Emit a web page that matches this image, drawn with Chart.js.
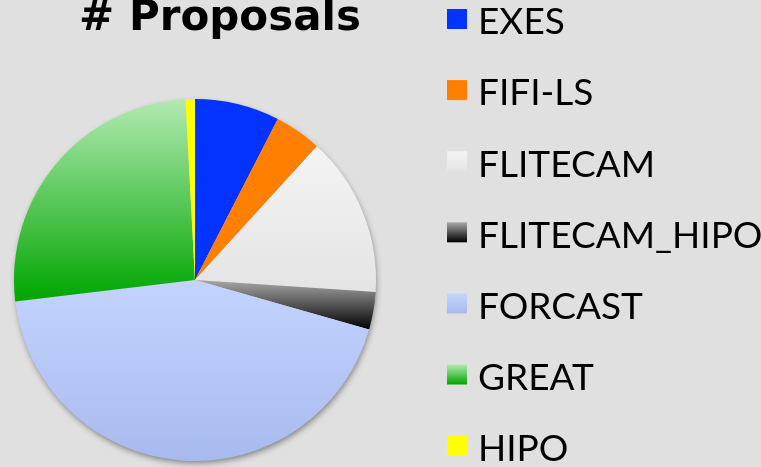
<!DOCTYPE html>
<html><head><meta charset="utf-8">
<script src="https://cdn.jsdelivr.net/npm/chart.js@4/dist/chart.umd.min.js"></script>
<style>html,body{margin:0;padding:0;background:#e0e0e0;overflow:hidden}canvas{display:block}</style>
</head><body>
<canvas id="c" width="761" height="467"></canvas>
<script>
const categories = ['EXES', 'FIFI-LS', 'FLITECAM', 'FLITECAM_HIPO', 'FORCAST', 'GREAT', 'HIPO'];
const proposals = [9, 5, 17, 4, 52, 31, 1];
const chartTitle = '# Proposals';
const topColors = ['#0433ff', '#ff8000', '#f4f4f4', '#a8a8a8', '#c4d4ff', '#b2eab2', '#ffff00'];
const bottomColors = ['#0433ff', '#ff8000', '#e4e4e4', '#000000', '#a8b9ee', '#00a600', '#ffff00'];

function arcBBox(el) {
  const { x, y, startAngle, endAngle, outerRadius: r } = el.getProps(['x', 'y', 'startAngle', 'endAngle', 'outerRadius'], true);
  let ys = [y, y + r * Math.sin(startAngle), y + r * Math.sin(endAngle)];
  const TAU = Math.PI * 2;
  const inRange = (a) => {
    let s = startAngle, e = endAngle;
    let k = Math.ceil((s - a) / TAU);
    return a + k * TAU <= e;
  };
  if (inRange(-Math.PI / 2)) ys.push(y - r);
  if (inRange(Math.PI / 2)) ys.push(y + r);
  return { top: Math.min(...ys), bottom: Math.max(...ys) };
}

const gradientPlugin = {
  id: 'gradients',
  beforeDatasetsDraw(chart) {
    const ctx = chart.ctx;
    const meta = chart.getDatasetMeta(0);
    const a0 = meta.data[0];
    ctx.save();
    ctx.shadowColor = 'rgba(0,0,0,0.45)';
    ctx.shadowBlur = 6;
    ctx.shadowOffsetX = 1;
    ctx.shadowOffsetY = 3;
    ctx.fillStyle = '#d0d0d0';
    ctx.beginPath();
    ctx.arc(a0.x, a0.y, a0.outerRadius - 1, 0, Math.PI * 2);
    ctx.fill();
    ctx.restore();
    meta.data.forEach((el, i) => {
      const b = arcBBox(el);
      const g = ctx.createLinearGradient(0, b.top, 0, b.bottom);
      g.addColorStop(0, topColors[i]);
      g.addColorStop(1, bottomColors[i]);
      el.options.backgroundColor = g;
    });
  }
};

const textPlugin = {
  id: 'texts',
  afterDraw(chart) {
    const ctx = chart.ctx;
    ctx.save();
    ctx.fillStyle = '#000';
    ctx.font = 'bold 42px "DejaVu Sans"';
    ctx.textBaseline = 'alphabetic';
    ctx.textAlign = 'center';
    ctx.fillText(chartTitle, 220, 30);
    ctx.font = '37px Lato';
    ctx.textAlign = 'left';
    chart.data.labels.forEach((c, i) => {
      const y0 = 9 + i * 71.1;
      const g = ctx.createLinearGradient(0, y0, 0, y0 + 20);
      g.addColorStop(0, topColors[i]);
      g.addColorStop(1, bottomColors[i]);
      ctx.fillStyle = g;
      ctx.fillRect(447, y0, 20, 20);
      ctx.fillStyle = '#000';
      ctx.fillText(c, 478, 34.3 + i * 71.1);
    });
    ctx.restore();
  }
};

new Chart(document.getElementById('c'), {
  type: 'pie',
  data: {
    labels: categories,
    datasets: [{
      data: proposals,
      backgroundColor: topColors,
      borderWidth: 0
    }]
  },
  options: {
    responsive: false,
    animation: false,
    devicePixelRatio: 1,
    layout: { padding: { left: 14, right: 385, top: 99, bottom: 6 } },
    plugins: { legend: { display: false }, title: { display: false }, tooltip: { enabled: false } }
  },
  plugins: [gradientPlugin, textPlugin]
});
</script>
</body></html>
